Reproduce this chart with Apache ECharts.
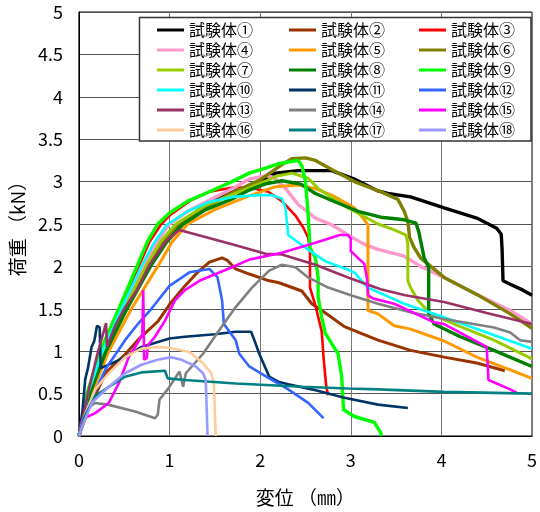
<!DOCTYPE html>
<html><head><meta charset="utf-8">
<script src="https://cdn.jsdelivr.net/npm/echarts@6/dist/echarts.min.js"></script>
<style>html,body{margin:0;padding:0;background:#fff}#c{width:540px;height:512px}</style>
</head><body><div id="c"></div>
<script>
// ---- data (displacement mm, load kN) ----
const names = ['試験体①','試験体②','試験体③','試験体④','試験体⑤','試験体⑥','試験体⑦','試験体⑧','試験体⑨','試験体⑩','試験体⑪','試験体⑫','試験体⑬','試験体⑭','試験体⑮','試験体⑯','試験体⑰','試験体⑱'];
const s01 = [[0,0],[0.12,0.5],[0.29,1.0],[0.52,1.5],[0.77,2.0],[0.94,2.3],[1.12,2.5],[1.4,2.73],[1.69,2.88],[1.88,2.94],[2.05,3.03],[2.17,3.1],[2.42,3.13],[2.79,3.13],[3.04,3.03],[3.3,2.89],[3.41,2.86],[3.66,2.82],[4.03,2.69],[4.39,2.57],[4.61,2.45],[4.66,2.38],[4.67,2.2],[4.68,1.83],[4.76,1.79],[4.9,1.72],[5.0,1.66]];
const s02 = [[0,0],[0.1,0.3],[0.3,0.75],[0.5,0.95],[0.65,1.13],[0.87,1.35],[1.0,1.55],[1.17,1.77],[1.3,1.92],[1.44,2.05],[1.58,2.1],[1.64,2.07],[1.73,1.97],[1.88,1.91],[2.1,1.83],[2.2,1.81],[2.46,1.71],[2.57,1.56],[2.72,1.45],[2.93,1.29],[3.3,1.13],[3.66,1.01],[4.03,0.93],[4.39,0.86],[4.7,0.77]];
const s03 = [[0,0],[0.1,0.5],[0.25,1.0],[0.45,1.5],[0.66,2.0],[0.78,2.29],[0.91,2.5],[1.0,2.6],[1.22,2.77],[1.44,2.88],[1.7,2.93],[1.88,2.93],[2.09,2.88],[2.24,2.77],[2.39,2.6],[2.48,2.45],[2.53,2.34],[2.55,2.2],[2.55,1.75],[2.61,1.54],[2.68,1.23],[2.7,0.92],[2.73,0.58],[2.75,0.48]];
const s04 = [[0,0],[0.11,0.5],[0.28,1.0],[0.49,1.5],[0.72,2.0],[0.86,2.29],[1.0,2.5],[1.2,2.65],[1.44,2.78],[1.7,2.92],[1.88,3.03],[2.06,3.07],[2.15,3.05],[2.28,2.92],[2.42,2.73],[2.61,2.57],[2.79,2.49],[2.97,2.37],[3.15,2.26],[3.3,2.2],[3.59,2.12],[3.77,2.0],[4.03,1.87],[4.39,1.67],[4.76,1.48],[5.0,1.32]];
const s05 = [[0,0],[0.14,0.5],[0.33,1.0],[0.58,1.5],[0.87,2.0],[1.03,2.29],[1.2,2.5],[1.5,2.67],[1.85,2.82],[2.17,2.94],[2.42,2.96],[2.6,2.92],[2.79,2.84],[3.04,2.69],[3.15,2.55],[3.19,2.49],[3.19,1.48],[3.3,1.44],[3.48,1.3],[3.66,1.26],[4.03,1.12],[4.39,0.93],[4.76,0.78],[5.0,0.68]];
const s06 = [[0,0],[0.12,0.5],[0.29,1.0],[0.51,1.5],[0.76,2.0],[0.93,2.29],[1.1,2.5],[1.4,2.7],[1.7,2.87],[2.0,3.02],[2.24,3.2],[2.35,3.27],[2.5,3.28],[2.61,3.25],[2.83,3.12],[3.04,3.0],[3.33,2.88],[3.52,2.79],[3.59,2.65],[3.63,2.53],[3.65,2.34],[3.7,2.22],[3.77,2.1],[4.03,1.87],[4.39,1.67],[4.76,1.44],[5.0,1.27]];
const s07 = [[0,0],[0.11,0.5],[0.28,1.0],[0.5,1.5],[0.74,2.0],[0.9,2.29],[1.07,2.5],[1.4,2.72],[1.7,2.85],[2.0,2.98],[2.2,3.07],[2.35,3.1],[2.53,3.04],[2.64,2.92],[2.97,2.69],[3.3,2.5],[3.48,2.43],[3.61,2.37],[3.63,2.26],[3.63,1.83],[3.66,1.75],[3.74,1.6],[3.88,1.44],[4.21,1.29],[4.58,1.13],[5.0,0.91]];
const s08 = [[0,0],[0.12,0.5],[0.3,1.0],[0.53,1.5],[0.79,2.0],[0.97,2.29],[1.15,2.5],[1.4,2.67],[1.7,2.8],[1.88,2.9],[2.05,2.97],[2.24,3.01],[2.45,2.97],[2.61,2.86],[2.83,2.76],[3.08,2.65],[3.33,2.58],[3.59,2.55],[3.72,2.51],[3.75,2.41],[3.81,2.1],[3.86,1.99],[3.86,1.44],[3.92,1.32],[4.21,1.17],[4.58,1.01],[5.0,0.82]];
const s09 = [[0,0],[0.09,0.5],[0.235,1.0],[0.44,1.5],[0.64,2.0],[0.755,2.29],[0.87,2.5],[1.0,2.63],[1.2,2.77],[1.44,2.88],[1.69,3.0],[1.88,3.1],[2.06,3.16],[2.2,3.21],[2.42,3.25],[2.46,3.19],[2.5,3.0],[2.53,2.61],[2.55,2.22],[2.61,2.1],[2.64,1.87],[2.64,1.64],[2.68,1.4],[2.72,1.21],[2.79,1.09],[2.86,0.97],[2.9,0.7],[2.92,0.31],[3.04,0.23],[3.26,0.16],[3.33,0.04],[3.34,0]];
const s10 = [[0,0],[0.1,0.5],[0.26,1.0],[0.47,1.5],[0.69,2.0],[0.83,2.28],[0.97,2.49],[1.2,2.65],[1.44,2.76],[1.7,2.82],[1.99,2.84],[2.13,2.84],[2.24,2.8],[2.28,2.69],[2.31,2.37],[2.5,2.22],[2.72,2.06],[2.97,1.96],[3.05,1.92],[3.12,1.83],[3.19,1.75],[3.59,1.56],[4.03,1.4],[4.5,1.22],[5.0,1.03]];
const s11 = [[0,0],[0.04,0.3],[0.07,0.67],[0.1,0.8],[0.14,1.05],[0.17,1.12],[0.2,1.3],[0.22,1.32],[0.23,1.28],[0.24,0.8],[0.35,0.85],[0.51,0.93],[0.69,1.05],[1.0,1.15],[1.17,1.17],[1.5,1.2],[1.73,1.23],[1.9,1.23],[1.95,1.09],[1.99,0.97],[2.1,0.7],[2.2,0.64],[2.31,0.61],[2.57,0.55],[2.93,0.45],[3.3,0.37],[3.63,0.33]];
const s12 = [[0,0],[0.1,0.35],[0.3,0.8],[0.51,1.13],[0.65,1.32],[0.8,1.5],[1.0,1.77],[1.22,1.93],[1.44,1.97],[1.53,1.87],[1.58,1.6],[1.6,1.32],[1.73,1.13],[1.77,0.97],[1.88,0.82],[2.1,0.68],[2.31,0.55],[2.53,0.39],[2.7,0.21]];
const s13 = [[0,0],[0.1,0.5],[0.2,0.95],[0.3,1.33],[0.31,1.05],[0.4,1.3],[0.5,1.5],[0.64,1.72],[0.78,2.02],[0.96,2.3],[1.11,2.43],[1.18,2.41],[1.69,2.26],[2.06,2.15],[2.24,2.14],[2.61,2.02],[2.97,1.87],[3.33,1.73],[3.6,1.66],[4.03,1.58],[4.5,1.45],[5.0,1.32]];
const s14 = [[0,0],[0.05,0.2],[0.1,0.33],[0.18,0.39],[0.32,0.37],[0.62,0.29],[0.84,0.21],[0.87,0.25],[0.89,0.43],[0.98,0.55],[1.11,0.76],[1.15,0.58],[1.18,0.74],[1.37,0.97],[1.55,1.25],[1.73,1.52],[1.91,1.75],[2.1,1.95],[2.24,2.02],[2.39,1.99],[2.53,1.87],[2.75,1.75],[3.0,1.66],[3.3,1.56],[3.66,1.46],[4.03,1.38],[4.58,1.28],[4.76,1.22],[4.87,1.13],[5.0,1.11]];
const s15 = [[0,0],[0.04,0.2],[0.18,0.27],[0.33,0.39],[0.44,0.62],[0.55,0.93],[0.65,1.1],[0.7,1.2],[0.71,1.72],[0.72,0.9],[0.75,0.92],[0.76,1.07],[0.84,1.17],[0.95,1.36],[1.06,1.6],[1.17,1.72],[1.33,1.83],[1.69,1.99],[1.88,2.08],[2.24,2.16],[2.61,2.28],[2.88,2.37],[2.97,2.37],[3.0,2.33],[3.0,2.18],[3.15,2.03],[3.18,1.85],[3.19,1.66],[3.25,1.62],[3.48,1.56],[3.92,1.34],[4.03,1.32],[4.5,1.05],[4.52,0.66],[4.76,0.55],[4.83,0.51]];
const s16 = [[0,0],[0.05,0.2],[0.18,0.55],[0.33,0.74],[0.51,0.93],[0.69,1.03],[0.87,1.05],[1.0,1.04],[1.22,0.99],[1.29,0.93],[1.37,0.86],[1.46,0.74],[1.49,0.62],[1.51,0]];
const s17 = [[0,0],[0.05,0.2],[0.18,0.47],[0.33,0.58],[0.51,0.7],[0.69,0.75],[0.95,0.77],[0.98,0.68],[1.17,0.66],[1.73,0.62],[2.46,0.58],[2.97,0.56],[3.3,0.55],[4.03,0.52],[5.0,0.5]];
const s18 = [[0,0],[0.05,0.15],[0.15,0.4],[0.33,0.58],[0.51,0.74],[0.69,0.84],[0.87,0.9],[1.02,0.93],[1.13,0.9],[1.29,0.82],[1.37,0.74],[1.4,0.66],[1.42,0]];
const seriesData = [s01,s02,s03,s04,s05,s06,s07,s08,s09,s10,s11,s12,s13,s14,s15,s16,s17,s18];
const xMin = 0, xMax = 5, xStep = 1;
const yMin = 0, yMax = 5, yStep = 0.5;
const xName = '変位 （㎜）';
const yName = '荷重 （kN）';

// ---- styles ----
const colors = ['#000000','#993300','#FF0000','#FF99CC','#FF9900','#808000','#99CC00','#008000','#00FF00','#00FFFF','#003366','#3366FF','#993366','#808080','#FF00FF','#FFCC99','#008080','#9999FF'];
const widths = [3.4,3,2.6,3.4,3,3.4,3,3.4,3.4,2.6,2.6,2.6,2.6,2.6,2.6,2.6,2.6,2.6];
const FONT = "'Noto Sans CJK JP', 'Noto Sans', sans-serif";

const chart = echarts.init(document.getElementById('c'), null, {renderer:'canvas'});
const legendLefts = [157, 289, 419];
const option = {
  animation: false,
  backgroundColor: '#fff',
  textStyle: {fontFamily: FONT},
  grid: {left: 78, right: 4, top: 12, bottom: 72, show: true, borderColor: '#000', borderWidth: 1, backgroundColor: 'transparent'},
  xAxis: {
    type: 'value', min: xMin, max: xMax, interval: xStep,
    name: xName, nameLocation: 'middle', nameGap: 52,
    nameTextStyle: {fontSize: 19, color: '#000', fontFamily: FONT},
    axisLine: {show: true, lineStyle: {color: '#000', width: 1}},
    axisTick: {show: false},
    axisLabel: {fontSize: 18, color: '#000', margin: 15, fontFamily: FONT},
    splitLine: {show: true, lineStyle: {color: '#777', width: 1}}
  },
  yAxis: {
    type: 'value', min: yMin, max: yMax, interval: yStep,
    name: yName, nameLocation: 'middle', nameGap: 50,
    nameTextStyle: {fontSize: 19, color: '#000', fontFamily: FONT},
    axisLine: {show: true, lineStyle: {color: '#000', width: 1}},
    axisTick: {show: false},
    axisLabel: {fontSize: 18, color: '#000', margin: 16, fontFamily: FONT, padding: [4, 0, 0, 0]},
    splitLine: {show: true, lineStyle: {color: '#555', width: 1}}
  },
  graphic: [{
    type: 'rect', z: 100,
    shape: {x: 139.5, y: 17.5, width: 391.5, height: 123.5},
    style: {fill: '#fff', stroke: '#333', lineWidth: 1.5}
  }],
  legend: legendLefts.map((l, c) => ({
    orient: 'vertical', left: l, top: 22, padding: 0,
    icon: 'rect', itemWidth: 27, itemHeight: 3, itemGap: 4, z: 101,
    data: names.filter((_, i) => i % 3 === c),
    textStyle: {fontSize: 16, color: '#000', fontFamily: FONT, lineHeight: 16}
  })),
  series: seriesData.map((d, i) => ({
    name: names[i], type: 'line', data: d,
    symbol: 'none', showSymbol: false,
    color: colors[i],
    itemStyle: {color: colors[i]},
    lineStyle: {color: colors[i], width: widths[i]},
    z: 2
  }))
};
chart.setOption(option);
</script>
</body></html>
